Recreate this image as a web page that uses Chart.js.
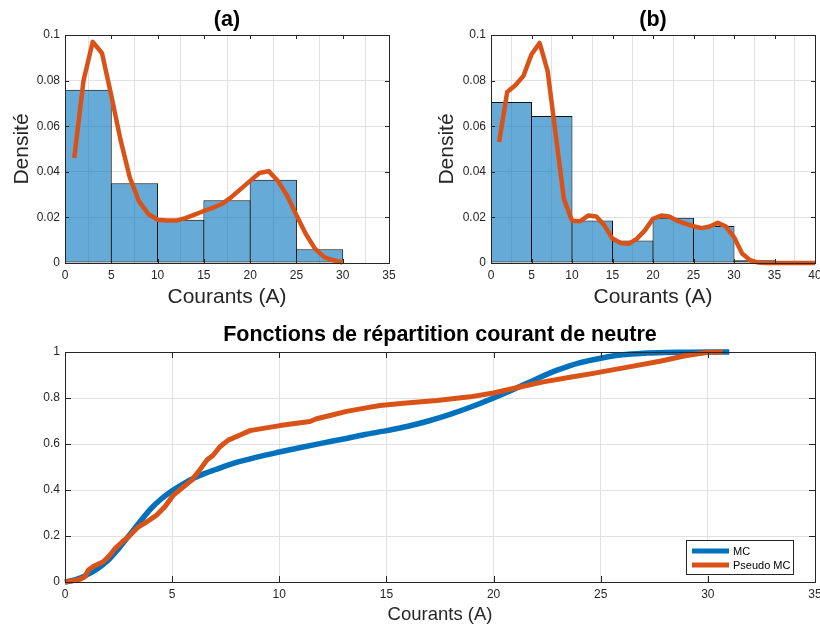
<!DOCTYPE html>
<html>
<head>
<meta charset="utf-8">
<script src="https://cdn.jsdelivr.net/npm/chart.js@4/dist/chart.umd.min.js"></script>
<style>
  html, body { margin: 0; padding: 0; background: #fff; }
  body { width: 820px; height: 630px; position: relative; overflow: hidden; }
  canvas { position: absolute; }
</style>
</head>
<body>
<canvas id="ca" width="410" height="320" style="left:0;top:0;"></canvas>
<canvas id="cb" width="410" height="320" style="left:410px;top:0;"></canvas>
<canvas id="cc" width="820" height="315" style="left:0;top:315px;"></canvas>
<script>
// ---------- DATA ----------
const binEdgesA = [0, 5, 10, 15, 20, 25, 30, 35];
const histA = [0.076, 0.035, 0.019, 0.0275, 0.0365, 0.006, 0];
const kdeXA = [1,2,3,4,5,6,7,8,9,10,11,12,13,14,15,16,17,18,19,20,21,22,23,24,25,26,27,28,29,30];
const kdeYA = [0.046,0.080,0.097,0.092,0.0735,0.054,0.0375,0.027,0.0215,0.019,0.0186,0.0186,0.0197,0.0212,0.0228,0.0243,0.026,0.029,0.0325,0.036,0.0395,0.0403,0.036,0.0295,0.021,0.0128,0.0063,0.0026,0.0012,0.0002];

const binEdgesB = [0, 5, 10, 15, 20, 25, 30, 35, 40];
const histB = [0.0706, 0.0645, 0.0186, 0.0099, 0.0198, 0.0162, 0.0012, 0];
const kdeXB = [1,2,3,4,5,6,7,8,9,10,11,12,13,14,15,16,17,18,19,20,21,22,23,24,25,26,27,28,29,30,31,32,33,34,35,36,37,38,39,40];
const kdeYB = [0.053,0.075,0.078,0.082,0.0915,0.0965,0.084,0.056,0.028,0.0185,0.0183,0.0208,0.0204,0.0165,0.0107,0.0088,0.0084,0.0106,0.0143,0.0194,0.0208,0.0204,0.0185,0.0173,0.0161,0.0153,0.016,0.0176,0.016,0.0114,0.0042,0.0012,0.0002,0,0,0,0,0,0,0];

const cdfXMC = [0,0.5,1,1.5,2,2.5,3,3.5,4,4.5,5,5.5,6,6.5,7,8,9,10,11,12,13,14,15,16,17,18,19,20,21,22,23,24,25,26,27,28,29,30,31];
const cdfYMC = [0,0.01,0.03,0.057,0.093,0.145,0.203,0.262,0.318,0.362,0.397,0.426,0.451,0.471,0.488,0.52,0.544,0.565,0.585,0.604,0.622,0.641,0.658,0.677,0.701,0.73,0.763,0.8,0.84,0.883,0.922,0.953,0.973,0.988,0.995,0.998,0.999,1,1];
const cdfXPMC = [0,0.3,0.7,0.93,1.09,1.32,1.79,2.1,2.34,2.65,3.04,3.43,3.82,4.28,4.67,5.06,5.53,5.92,6.23,6.62,6.9,7.23,7.62,8.17,8.63,9.25,10.03,10.81,11.43,11.74,12.37,13.14,13.92,14.7,15.79,17.35,18.9,19.99,21.23,22.32,23.57,24.65,26.2,27.76,29.0,29.95,30.7];
const cdfYPMC = [0,0.004,0.012,0.023,0.052,0.067,0.088,0.117,0.146,0.172,0.204,0.24,0.262,0.291,0.328,0.378,0.414,0.443,0.48,0.53,0.55,0.588,0.617,0.639,0.658,0.668,0.68,0.69,0.698,0.71,0.724,0.742,0.755,0.767,0.777,0.789,0.805,0.822,0.848,0.87,0.89,0.907,0.933,0.96,0.985,0.998,1];

const titleA = '(a)';
const titleB = '(b)';
const titleC = 'Fonctions de répartition courant de neutre';
const xLabel = 'Courants (A)';
const yLabel = 'Densité';
const legendLabels = ['MC', 'Pseudo MC'];

// ---------- STYLE ----------
const FONT = "'Liberation Sans', Arial, Helvetica, sans-serif";
const AXC = '#262626';
const GRIDC = '#e1e1e1';
const BLUE = '#0072BD';
const ORANGE = '#D95319';
const BARFILL = 'rgba(0,114,189,0.6)';
Chart.defaults.font.family = FONT;
Chart.defaults.color = AXC;

function pts(xs, ys) { return xs.map((x, i) => ({ x: x, y: ys[i] })); }
function hist(edges, vals) { return vals.map((v, i) => ({ x: (edges[i] + edges[i + 1]) / 2, y: v })); }
function fmt(v) { return String(Number(v.toFixed(3))); }

const boxPlugin = {
  id: 'boxTicks',
  afterDatasetsDraw(chart, args, opts) {
    const { ctx, chartArea: a, scales } = chart;
    const tl = opts.len || 4;
    ctx.save();
    ctx.strokeStyle = AXC;
    ctx.lineWidth = 1;
    ctx.beginPath();
    scales.x.ticks.forEach(t => {
      const px = Math.round(scales.x.getPixelForValue(t.value)) + 0.5;
      ctx.moveTo(px, a.bottom); ctx.lineTo(px, a.bottom - tl);
      ctx.moveTo(px, a.top); ctx.lineTo(px, a.top + tl);
    });
    scales.y.ticks.forEach(t => {
      const py = Math.round(scales.y.getPixelForValue(t.value)) + 0.5;
      ctx.moveTo(a.left, py); ctx.lineTo(a.left + tl, py);
      ctx.moveTo(a.right, py); ctx.lineTo(a.right - tl, py);
    });
    ctx.stroke();
    ctx.strokeRect(Math.round(a.left) + 0.5, Math.round(a.top) + 0.5, Math.round(a.right - a.left), Math.round(a.bottom - a.top));
    ctx.restore();
  }
};

const legendPlugin = {
  id: 'innerLegend',
  afterDraw(chart) {
    const o = chart.options.plugins.innerLegend;
    if (!o || !o.show) return;
    const { ctx, chartArea: a } = chart;
    const w = 107, h = 34;
    const x0 = a.right - 22 - w, y0 = a.bottom - 8 - h;
    ctx.save();
    ctx.fillStyle = '#fff';
    ctx.fillRect(x0, y0, w, h);
    ctx.strokeStyle = AXC;
    ctx.lineWidth = 1;
    ctx.strokeRect(Math.round(x0) + 0.5, Math.round(y0) + 0.5, w, h);
    chart.data.datasets.forEach((d, i) => {
      const yy = y0 + 11 + i * 14;
      ctx.strokeStyle = d.borderColor;
      ctx.lineWidth = 5;
      ctx.beginPath();
      ctx.moveTo(x0 + 6, yy); ctx.lineTo(x0 + 43, yy);
      ctx.stroke();
      ctx.fillStyle = '#000';
      ctx.font = '11px ' + FONT;
      ctx.textBaseline = 'middle';
      ctx.fillText(d.label, x0 + 47, yy + 1);
    });
    ctx.restore();
  }
};

function histChart(id, title, edges, vals, kx, ky, xmax, yWidth, yTitlePad, rightPad, barPct) {
  return new Chart(document.getElementById(id), {
    type: 'bar',
    data: {
      datasets: [
        { type: 'line', label: 'kde', data: pts(kx, ky), borderColor: ORANGE, borderWidth: 4.5,
          pointRadius: 0, tension: 0, borderJoinStyle: 'round', borderCapStyle: 'butt', order: 0, clip: 4 },
        { type: 'bar', label: 'hist', data: hist(edges, vals), backgroundColor: BARFILL,
          borderColor: '#111', borderWidth: 1, borderSkipped: false, inflateAmount: 0,
          barPercentage: barPct, categoryPercentage: 1, order: 1 }
      ]
    },
    options: {
      responsive: false, animation: false, devicePixelRatio: 1,
      layout: { padding: { left: 0, right: rightPad, top: 0, bottom: 0 } },
      plugins: {
        legend: { display: false }, tooltip: { enabled: false },
        title: { display: true, text: title, fullSize: false, color: '#000',
                 font: { size: 21.5, weight: 'bold' }, padding: { top: 7.3, bottom: 1.9 } },
        boxTicks: { len: 4 }
      },
      scales: {
        x: { type: 'linear', min: 0, max: xmax, offset: false,
             ticks: { stepSize: 5, font: { size: 12 }, color: AXC, padding: 5, maxRotation: 0 },
             grid: { color: GRIDC, drawTicks: false }, border: { display: false },
             title: { display: true, text: xLabel, color: AXC, font: { size: 21 }, padding: { top: 0, bottom: 10 } },
             afterFit(s) { s.height = 57; s.paddingLeft = 0; s.paddingRight = 0; } },
        y: { min: 0, max: 0.1,
             ticks: { stepSize: 0.02, font: { size: 12 }, color: AXC, padding: 5, callback: fmt },
             grid: { color: GRIDC, drawTicks: false }, border: { display: false },
             title: { display: true, text: yLabel, color: AXC, font: { size: 21 }, padding: { top: yTitlePad, bottom: 0 } },
             afterFit(s) { s.width = yWidth; s.paddingTop = 0; s.paddingBottom = 0; } }
      }
    },
    plugins: [boxPlugin]
  });
}

histChart('ca', titleA, binEdgesA, histA, kdeXA, kdeYA, 35, 65, 10, 21, 1 + 1 / 46.3);
histChart('cb', titleB, binEdgesB, histB, kdeXB, kdeYB, 40, 81, 25, 5, 1 + 1 / 40.5);

new Chart(document.getElementById('cc'), {
  type: 'line',
  data: {
    datasets: [
      { label: legendLabels[0], data: pts(cdfXMC, cdfYMC), borderColor: BLUE, borderWidth: 5.5,
        pointRadius: 0, cubicInterpolationMode: 'monotone', order: 1, clip: 4 },
      { label: legendLabels[1], data: pts(cdfXPMC, cdfYPMC), borderColor: ORANGE, borderWidth: 5,
        pointRadius: 0, tension: 0, borderJoinStyle: 'round', order: 0, clip: 4 }
    ]
  },
  options: {
    responsive: false, animation: false, devicePixelRatio: 1,
    layout: { padding: { left: 0, right: 5, top: 0, bottom: 0 } },
    plugins: {
      legend: { display: false }, tooltip: { enabled: false },
      title: { display: true, text: titleC, fullSize: false, color: '#000',
               font: { size: 21.5, weight: 'bold' }, padding: { top: 7.1, bottom: 4.1 } },
      boxTicks: { len: 6 },
      innerLegend: { show: true }
    },
    scales: {
      x: { type: 'linear', min: 0, max: 35,
           ticks: { stepSize: 5, font: { size: 12 }, color: AXC, padding: 5, maxRotation: 0 },
           grid: { color: GRIDC, drawTicks: false }, border: { display: false },
           title: { display: true, text: xLabel, color: AXC, font: { size: 18.5 }, padding: { top: 0, bottom: 4 } },
           afterFit(s) { s.height = 48; s.paddingLeft = 0; s.paddingRight = 0; } },
      y: { min: 0, max: 1,
           ticks: { stepSize: 0.2, font: { size: 12 }, color: AXC, padding: 5, callback: fmt },
           grid: { color: GRIDC, drawTicks: false }, border: { display: false },
           afterFit(s) { s.width = 65; s.paddingTop = 0; s.paddingBottom = 0; } }
    }
  },
  plugins: [boxPlugin, legendPlugin]
});
</script>
</body>
</html>
